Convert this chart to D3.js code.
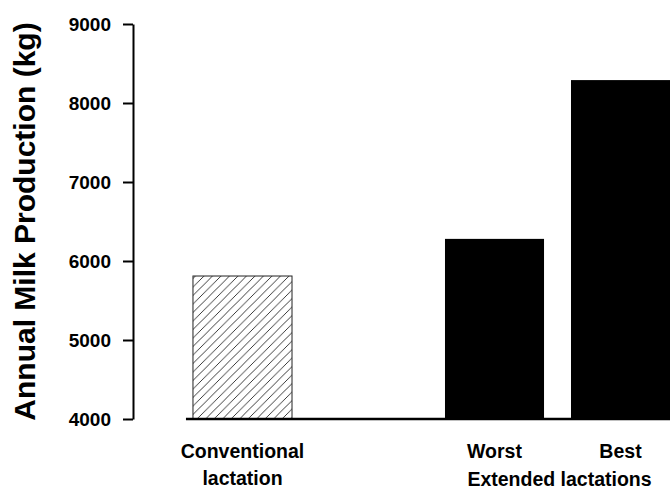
<!DOCTYPE html>
<html>
<head>
<meta charset="utf-8">
<script src="https://cdn.jsdelivr.net/npm/d3@7"></script>
<style>
  body { margin: 0; background: #fff; }
  svg { display: block; font-family: "Liberation Sans", Arial, sans-serif; }
</style>
</head>
<body>
<div id="viz"></div>
<script>
const categories = ["Conventional", "gap", "Worst", "Best"];
const barCategories = ["Conventional", "Worst", "Best"];
const milkValues = [5810, 6280, 8290];
const barStyles = ["hatch", "solid", "solid"];
const yTicks = [4000, 5000, 6000, 7000, 8000, 9000];
const catLabels = {
  Conventional: ["Conventional", "lactation"],
  Worst: ["Worst"],
  Best: ["Best"]
};
const groupLabel = "Extended lactations";
const yTitle = "Annual Milk Production (kg)";

const data = barCategories.map((c, i) => ({cat: c, value: milkValues[i], style: barStyles[i]}));

const W = 670, H = 491;
const margin = {top: 24, left: 133, bottom: 72};
const height = H - margin.top - margin.bottom;

const svg = d3.select("#viz")
  .append("svg")
    .attr("width", W)
    .attr("height", H);

const defs = svg.append("defs");
const pat = defs.append("pattern")
  .attr("id", "hatch")
  .attr("patternUnits", "userSpaceOnUse")
  .attr("width", 8.5)
  .attr("height", 8.5);
pat.append("rect").attr("width", 8.5).attr("height", 8.5).attr("fill", "#fff");
pat.append("path")
  .attr("d", "M-1,9.5 L9.5,-1 M-2.5,2.5 L2.5,-2.5 M6,11 L11,6")
  .attr("stroke", "#222")
  .attr("stroke-width", 0.9);

const g = svg.append("g")
  .attr("transform", `translate(${margin.left},${margin.top})`);

const y = d3.scaleLinear()
  .domain([4000, 9000])
  .range([height, 0]);

const x = d3.scaleBand()
  .domain(categories)
  .range([33, 564])
  .paddingInner(0.214)
  .paddingOuter(0.214);

// y axis
const yAxis = g.append("g")
  .call(d3.axisLeft(y)
    .tickValues(yTicks)
    .tickSize(10)
    .tickSizeOuter(0)
    .tickPadding(12)
    .tickFormat(d3.format("d")));
yAxis.select(".domain").attr("stroke", "#000").attr("stroke-width", 2);
yAxis.selectAll(".tick line").attr("stroke", "#000").attr("stroke-width", 2);
yAxis.selectAll(".tick text")
  .attr("fill", "#000")
  .style("font-size", "19px")
  .style("font-weight", "bold")
  .style("font-family", "'Liberation Sans', Arial, sans-serif");

// bars
g.selectAll("rect.bar")
  .data(data)
  .join("rect")
    .attr("class", "bar")
    .attr("x", d => x(d.cat))
    .attr("y", d => y(d.value))
    .attr("width", x.bandwidth())
    .attr("height", d => y(4000) - y(d.value))
    .attr("fill", d => d.style === "hatch" ? "url(#hatch)" : "#000")
    .attr("stroke", d => d.style === "hatch" ? "#222" : "none")
    .attr("stroke-width", 1);

// baseline (offset from y axis)
g.append("line")
  .attr("x1", x(categories[0]) - 7)
  .attr("x2", W)
  .attr("y1", y(4000))
  .attr("y2", y(4000))
  .attr("stroke", "#000")
  .attr("stroke-width", 2.5);

// category labels
barCategories.forEach(c => {
  catLabels[c].forEach((line, i) => {
    g.append("text")
      .attr("x", x(c) + x.bandwidth() / 2)
      .attr("y", height + 39 + i * 27)
      .attr("text-anchor", "middle")
      .style("font-size", "19.5px")
      .style("font-weight", "bold")
      .text(line);
  });
});

g.append("text")
  .attr("x", (x("Worst") + x("Best") + x.bandwidth()) / 2 + 2)
  .attr("y", height + 67)
  .attr("text-anchor", "middle")
  .style("font-size", "19.5px")
  .style("font-weight", "bold")
  .text(groupLabel);

// y title
svg.append("text")
  .attr("transform", `translate(35,${margin.top + height / 2}) rotate(-90)`)
  .attr("text-anchor", "middle")
  .style("font-size", "30px")
  .style("font-weight", "bold")
  .text(yTitle);
</script>
</body>
</html>
